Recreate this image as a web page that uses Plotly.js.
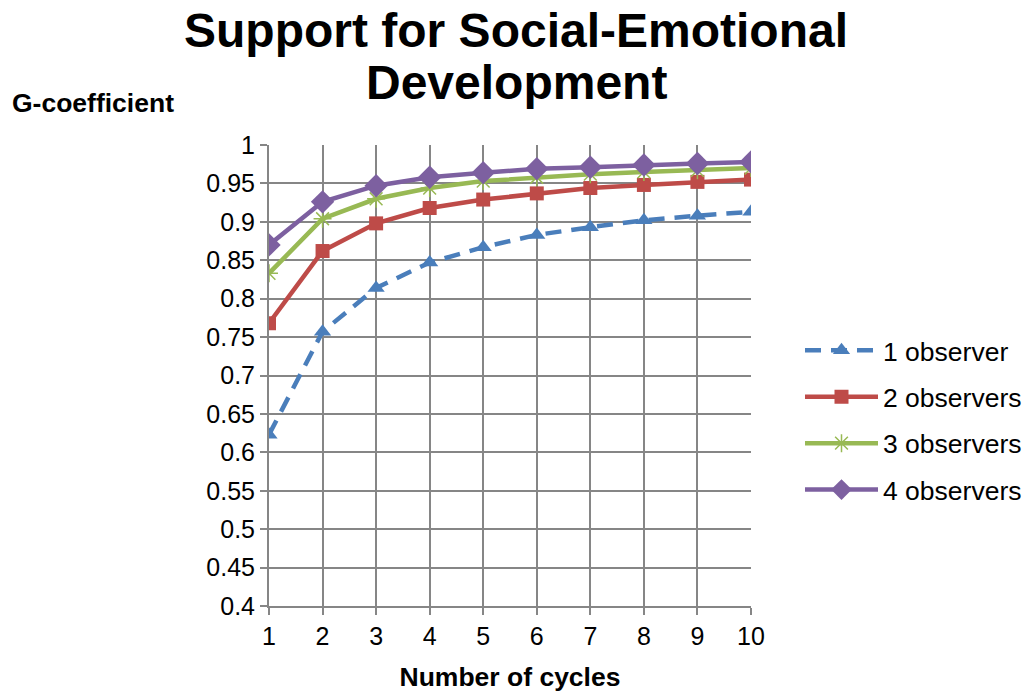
<!DOCTYPE html>
<html><head><meta charset="utf-8">
<script src="https://cdn.plot.ly/plotly-3.0.1.min.js"></script>
<style>html,body{margin:0;padding:0;background:#fff;}#c{width:1028px;height:692px;}</style>
</head><body><div id="c"></div>
<script>
const cycles = [1,2,3,4,5,6,7,8,9,10];
const obs1 = [0.623,0.757,0.814,0.847,0.867,0.883,0.893,0.902,0.908,0.913];
const obs2 = [0.768,0.862,0.898,0.918,0.929,0.937,0.944,0.948,0.952,0.955];
const obs3 = [0.833,0.904,0.930,0.944,0.953,0.958,0.962,0.965,0.967,0.970];
const obs4 = [0.870,0.926,0.947,0.958,0.964,0.969,0.971,0.974,0.976,0.978];
const seriesNames = ["1 observer","2 observers","3 observers","4 observers"];
const yTicks = [0.4,0.45,0.5,0.55,0.6,0.65,0.7,0.75,0.8,0.85,0.9,0.95,1];
const yTickText = ["0.4","0.45","0.5","0.55","0.6","0.65","0.7","0.75","0.8","0.85","0.9","0.95","1"];
const titleLines = ["Support for Social-Emotional","Development"];

const FONT = "Liberation Sans, Arial, sans-serif";
const traces = [
  {x:cycles,y:obs1,name:seriesNames[0],legendgroup:"a",mode:"lines+markers",
   line:{color:"#4a7ebb",width:4.5,dash:"16px,10px"},marker:{symbol:"triangle-up",size:15,color:"#4a7ebb"}},
  {x:cycles,y:obs2,name:seriesNames[1],legendgroup:"b",mode:"lines+markers",
   line:{color:"#be4b48",width:4.5},marker:{symbol:"square",size:14,color:"#be4b48"}},
  {x:cycles,y:obs3,name:seriesNames[2],legendgroup:"c",mode:"lines+markers",
   line:{color:"#98b954",width:4.5},marker:{symbol:"asterisk-open",size:15,color:"#98b954",line:{color:"#98b954",width:1.5}}},
  {x:cycles,y:obs4,name:seriesNames[3],legendgroup:"d",mode:"lines+markers",
   line:{color:"#7d60a0",width:4.5},marker:{symbol:"diamond",size:18,color:"#7d60a0"}}
];
const layout = {
  width:1028,height:692,
  margin:{l:269,r:277,t:145,b:86},
  paper_bgcolor:"#fff",plot_bgcolor:"#fff",
  font:{family:FONT,size:25,color:"#000"},
  xaxis:{range:[1,10],tickvals:cycles,ticktext:cycles.map(String),showgrid:true,gridcolor:"#868686",gridwidth:2,
    showline:true,linecolor:"#868686",linewidth:2,zeroline:false,ticks:"outside",ticklen:7,tickwidth:2,tickcolor:"#868686",
    tickfont:{size:25},title:{text:"<b>Number of cycles</b>",font:{size:26.5},standoff:18},fixedrange:true},
  yaxis:{range:[0.4,1],tickvals:yTicks,ticktext:yTickText,showgrid:true,gridcolor:"#868686",gridwidth:2,
    showline:true,linecolor:"#868686",linewidth:2,zeroline:false,ticks:"outside",ticklen:7,tickwidth:2,tickcolor:"#868686",
    tickfont:{size:25}},
  legend:{xref:"container",yref:"container",x:800/1028,y:1-420/692,xanchor:"left",yanchor:"middle",font:{size:26.5},
    tracegroupgap:9,itemwidth:73,bgcolor:"rgba(0,0,0,0)"},
  annotations:[
    {text:"<b>G-coefficient</b>",xref:"paper",yref:"paper",x:(10-269)/482,y:1.091,xanchor:"left",yanchor:"middle",
     showarrow:false,font:{size:26.5,family:FONT}},
    {text:"<b>"+titleLines[0]+"</b>",xref:"paper",yref:"paper",x:0.513,y:(606-31)/461,xanchor:"center",yanchor:"middle",
     showarrow:false,font:{size:48,family:FONT}},
    {text:"<b>"+titleLines[1]+"</b>",xref:"paper",yref:"paper",x:0.513,y:(606-82)/461,xanchor:"center",yanchor:"middle",
     showarrow:false,font:{size:48,family:FONT}}
  ],
  showlegend:true
};
Plotly.newPlot("c",traces,layout,{displayModeBar:false,staticPlot:true});
</script></body></html>
